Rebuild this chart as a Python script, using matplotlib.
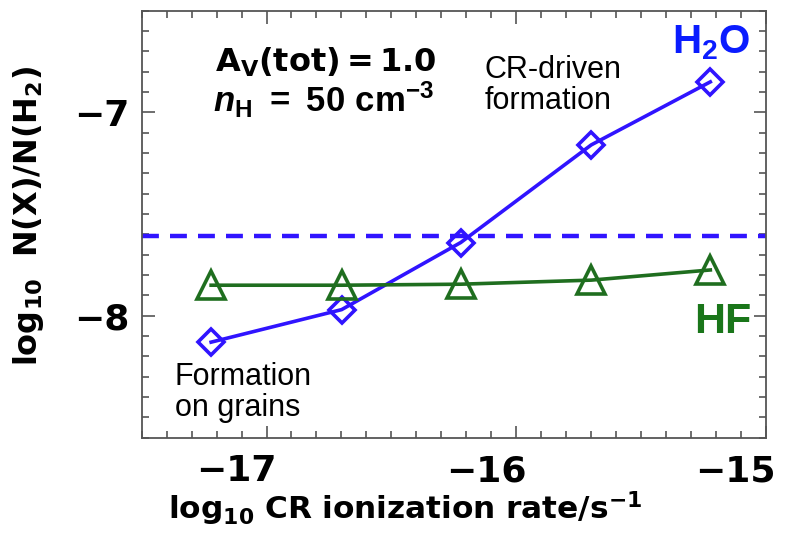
import numpy as np
import matplotlib
matplotlib.use("Agg")
import matplotlib.pyplot as plt
from matplotlib.ticker import MultipleLocator
from matplotlib.transforms import ScaledTranslation

# ionization rates (s^-1) and column density ratios
cr_rate = [6e-18, 2e-17, 6e-17, 2e-16, 6e-16]
h2o = [-8.13, -7.97, -7.64, -7.16, -6.85]
hf = [-7.85, -7.85, -7.845, -7.825, -7.775]
h2o_obs = -7.61

blue = '#3014ff'
green = '#1f6e1f'

plt.rcParams['mathtext.fontset'] = 'custom'
plt.rcParams['mathtext.rm'] = 'Liberation Sans'
plt.rcParams['mathtext.bf'] = 'Liberation Sans:bold'
plt.rcParams['mathtext.it'] = 'Liberation Sans:italic:bold'

fig = plt.figure(figsize=(8.07, 5.49), dpi=100)
ax = fig.add_axes([0.1756, 0.2027, 0.7732, 0.7778])

x = np.log10(cr_rate)
ax.axhline(h2o_obs, color=blue, lw=3.2, dashes=(3.8, 2.5))
ax.plot(x, h2o, '-', color=blue, lw=2.6, marker='D', ms=13.5,
        mfc='none', mec=blue, mew=2.6)
ax.plot(x, hf, '-', color=green, lw=2.6, marker='^', ms=19.5,
        mfc='none', mec=green, mew=2.6)

ax.set_xlim(-17.5, -15)
ax.set_ylim(-8.6, -6.5)
ax.xaxis.set_major_locator(MultipleLocator(1))
ax.xaxis.set_minor_locator(MultipleLocator(0.1))
ax.yaxis.set_major_locator(MultipleLocator(1))
ax.yaxis.set_minor_locator(MultipleLocator(0.1))
ax.tick_params(which='both', direction='in', top=True, right=True,
               color='#555555', width=1.2)
ax.tick_params(which='major', length=9)
ax.tick_params(which='minor', length=5)
ax.tick_params(axis='x', which='major', pad=12)
ax.tick_params(axis='y', which='major', pad=9)
for sp in ax.spines.values():
    sp.set_color('#555555')
    sp.set_linewidth(1.3)

for lab in ax.get_xticklabels() + ax.get_yticklabels():
    lab.set_fontsize(26)
    lab.set_fontweight('bold')
    lab.set_family('DejaVu Sans')
# labels sit a little left of their ticks in the original
for lab in ax.get_xticklabels():
    lab.set_transform(lab.get_transform() +
                      ScaledTranslation(-0.30, 0, fig.dpi_scale_trans))

ax.set_xlabel(r'$\mathbf{log_{10}\ CR\ ionization\ rate/s^{-1}}$',
              fontsize=22.5, math_fontfamily='dejavusans')
ax.xaxis.set_label_coords(0.422, -0.122, transform=ax.transAxes)
ax.xaxis.label.set_va('top')
ax.set_ylabel(r'$\mathbf{log_{10}\ \ N(X)/N(H_2)}$',
              fontsize=23, math_fontfamily='dejavusans')
ax.yaxis.set_label_coords(-0.153, 0.52, transform=ax.transAxes)

ax.text(0.117, 0.857, r'$\mathbf{A_V(tot)=1.0}$', transform=ax.transAxes,
        fontsize=23, math_fontfamily='dejavusans', va='baseline')
ax.text(0.114, 0.762, r'$n_{\mathbf{H}}\ \mathbf{=\ 50\ cm^{-3}}$',
        transform=ax.transAxes, fontsize=25, va='baseline')
ax.text(0.55, 0.896, 'CR-driven\nformation', transform=ax.transAxes,
        fontsize=22, family='Liberation Sans', va='top', linespacing=1.05)
ax.text(0.053, 0.177, 'Formation\non grains', transform=ax.transAxes,
        fontsize=22, family='Liberation Sans', va='top', linespacing=1.05)
ax.text(0.85, 0.9, r'$\mathbf{H_2O}$', transform=ax.transAxes,
        fontsize=29, color='#0a1cff', va='baseline')
ax.text(0.885, 0.245, 'HF', transform=ax.transAxes, fontsize=31,
        fontweight='bold', family='Liberation Sans', color='#1a761a',
        va='baseline')

fig.savefig('out.png', dpi=100)
